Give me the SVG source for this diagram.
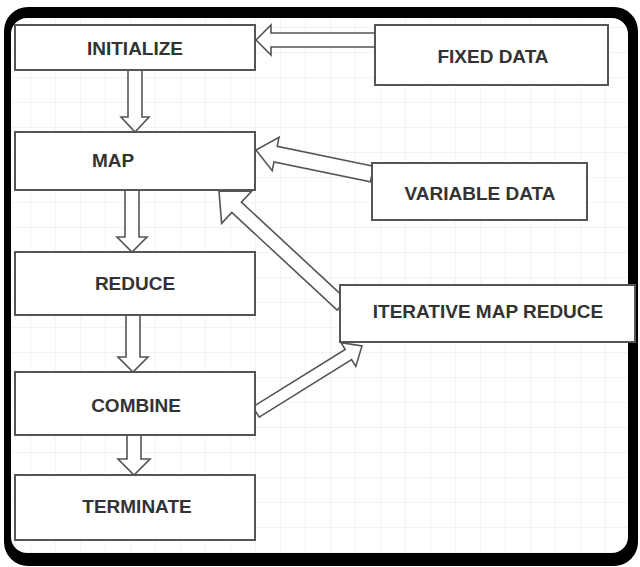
<svg xmlns="http://www.w3.org/2000/svg" width="640" height="567" viewBox="0 0 640 567">
<defs>
<pattern id="grid" x="5" y="2" width="25" height="25" patternUnits="userSpaceOnUse">
<path d="M0 0H25M0 0V25" fill="none" stroke="#e8e8ef" stroke-width="1"/>
</pattern>
<style>
.box{fill:#fff;stroke:#555;stroke-width:2}
.arr{fill:#fff;stroke:#555;stroke-width:1.6;stroke-linejoin:miter}
.lbl{font-family:"Liberation Sans",Arial,sans-serif;font-weight:bold;font-size:19px;fill:#333;text-anchor:middle}
</style>
</defs>
<rect x="0" y="0" width="640" height="567" fill="#fff"/>
<rect x="10" y="16" width="620" height="540" fill="url(#grid)"/>
<path d="M28 7H614A24 24 0 0 1 638 31V542A24 24 0 0 1 614 566H28A24 24 0 0 1 4 542V31A24 24 0 0 1 28 7Z M27 18H612A16 16 0 0 1 628 34V537A16 16 0 0 1 612 553H27A16 16 0 0 1 11 537V34A16 16 0 0 1 27 18Z" fill="#000" fill-rule="evenodd"/>
<g id="connectors">
<polygon class="arr" points="375,33 271,33 271,25 256,40 271,55 271,47 375,47"/>
<polygon class="arr" points="142,70 142,117 149,117 135,132 121,117 128,117 128,70"/>
<polygon class="arr" points="139,190 139,237 147,237 132,252 117,237 125,237 125,190"/>
<polygon class="arr" points="140,315 140,357 148,357 133,372 118,357 126,357 126,315"/>
<polygon class="arr" points="141,435 141,459 150,459 134,475 118,459 127,459 127,435"/>
<polygon class="arr" points="373.6,166.2 277.2,146.3 279,137.4 256,150 272.2,170.7 274,161.9 370.4,181.8"/>
<polygon class="arr" points="346.8,299.9 241.4,202.2 251.6,191.2 219,191 221.6,223.4 231.8,212.4 337.2,310.1"/>
<polygon class="arr" points="259.2,417.1 351.6,359.6 355.8,366.4 362,346 341,342.6 345.2,349.4 252.8,406.9"/>
</g>
<g id="initialize"><rect class="box" x="15" y="25" width="240" height="45"/><text class="lbl" x="135" y="55">INITIALIZE</text></g>
<g id="map"><rect class="box" x="15" y="132" width="240" height="58"/><text class="lbl" x="113" y="167">MAP</text></g>
<g id="reduce"><rect class="box" x="15" y="252" width="240" height="63"/><text class="lbl" x="135" y="290">REDUCE</text></g>
<g id="combine"><rect class="box" x="15" y="372" width="240" height="63"/><text class="lbl" x="136" y="412">COMBINE</text></g>
<g id="terminate"><rect class="box" x="15" y="475" width="240" height="65"/><text class="lbl" x="137" y="513">TERMINATE</text></g>
<g id="fixed-data"><rect class="box" x="375" y="25" width="233" height="60"/><text class="lbl" x="493" y="63">FIXED DATA</text></g>
<g id="variable-data"><rect class="box" x="372" y="163" width="215" height="57"/><text class="lbl" x="480" y="200">VARIABLE DATA</text></g>
<g id="iterative-map-reduce"><rect class="box" x="340" y="285" width="295" height="57"/><text class="lbl" x="488" y="318">ITERATIVE MAP REDUCE</text></g>
</svg>
